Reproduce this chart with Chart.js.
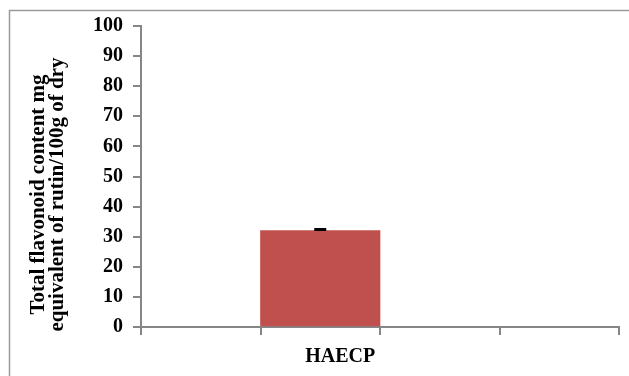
<!DOCTYPE html>
<html lang="en">
  <head>
    <meta charset="UTF-8" />
    <title>Chart</title>
    <style>
      html, body { margin: 0; padding: 0; background: #fff; }
      #wrap { width: 629px; height: 376px; }
    </style>
  </head>
  <body>
    <div id="wrap"><canvas id="flavChart"></canvas></div>
    <script src="https://cdn.jsdelivr.net/npm/chart.js"></script>
    <script>
      // data
      const categories = ["", "HAECP", "", ""];
      const values = [null, 32, null, null];
      const errors = [null, 0.4, null, null];
      const yTicks = [0, 10, 20, 30, 40, 50, 60, 70, 80, 90, 100];
      const yTitle = ["Total flavonoid content mg", "equivalent of rutin/100g of dry"];

      const serif = "'Liberation Serif', 'Times New Roman', serif";

      // outer frame round the chart
      const framePlugin = {
        id: "frame",
        beforeDraw(chart) {
          const c = chart.ctx;
          c.save();
          c.fillStyle = "#fff";
          c.fillRect(0, 0, chart.width, chart.height);
          c.strokeStyle = "#9a9a9a";
          c.lineWidth = 1.5;
          c.strokeRect(9.5, 10.5, 640, 400);
          c.restore();
        },
      };

      // y axis title, sat a little below the middle of the axis like the original
      const yTitlePlugin = {
        id: "ytitle",
        afterDraw(chart) {
          const c = chart.ctx;
          const area = chart.chartArea;
          const cy = (area.top + area.bottom) / 2 + 18;
          c.save();
          c.fillStyle = "#000";
          c.font = "bold 21px " + serif;
          c.textAlign = "center";
          c.textBaseline = "middle";
          yTitle.forEach((line, i) => {
            c.save();
            c.translate(39 + i * 19, cy);
            c.rotate(-Math.PI / 2);
            c.fillText(line, 0, 0);
            c.restore();
          });
          c.restore();
        },
      };

      // small error bar cap on top of each bar
      const errorPlugin = {
        id: "errbars",
        afterDatasetsDraw(chart) {
          const c = chart.ctx;
          const y = chart.scales.y;
          const meta = chart.getDatasetMeta(0);
          c.save();
          c.strokeStyle = "#000";
          c.lineWidth = 3;
          meta.data.forEach((bar, i) => {
            if (values[i] == null || errors[i] == null) return;
            const top = y.getPixelForValue(values[i] + errors[i]);
            c.beginPath();
            c.moveTo(bar.x - 6, top);
            c.lineTo(bar.x + 6, top);
            c.stroke();
          });
          c.restore();
        },
      };

      new Chart(document.getElementById("flavChart"), {
        type: "bar",
        data: {
          labels: categories,
          datasets: [
            {
              data: values,
              backgroundColor: "#C0504D",
              borderWidth: 0,
              categoryPercentage: 1,
              barPercentage: 1,
            },
          ],
        },
        options: {
          responsive: true,
          maintainAspectRatio: false,
          animation: false,
          layout: { padding: { left: 10, top: 26, right: 10, bottom: 0 } },
          plugins: {
            legend: { display: false },
            tooltip: { enabled: false },
          },
          scales: {
            x: {
              offset: true,
              grid: {
                offset: true,
                drawOnChartArea: false,
                drawTicks: true,
                tickLength: 8,
                color: "#868686",
                lineWidth: 2,
              },
              border: { color: "#868686", width: 2 },
              ticks: {
                color: "#000",
                font: { family: serif, size: 20, weight: "bold" },
                padding: 10,
                labelOffset: 20,
                maxRotation: 0,
                autoSkip: false,
              },
              afterFit(scale) {
                scale.height = 49;
              },
            },
            y: {
              min: 0,
              max: 100,
              afterBuildTicks(scale) {
                scale.ticks = yTicks.map((v) => ({ value: v }));
              },
              grid: {
                drawOnChartArea: false,
                drawTicks: true,
                tickLength: 8,
                color: "#868686",
                lineWidth: 2,
              },
              border: { color: "#868686", width: 2 },
              ticks: {
                color: "#000",
                font: { family: serif, size: 20, weight: "bold" },
                padding: 10,
              },
              afterFit(scale) {
                scale.width = 131;
              },
            },
          },
        },
        plugins: [framePlugin, yTitlePlugin, errorPlugin],
      });
    </script>
  </body>
</html>
